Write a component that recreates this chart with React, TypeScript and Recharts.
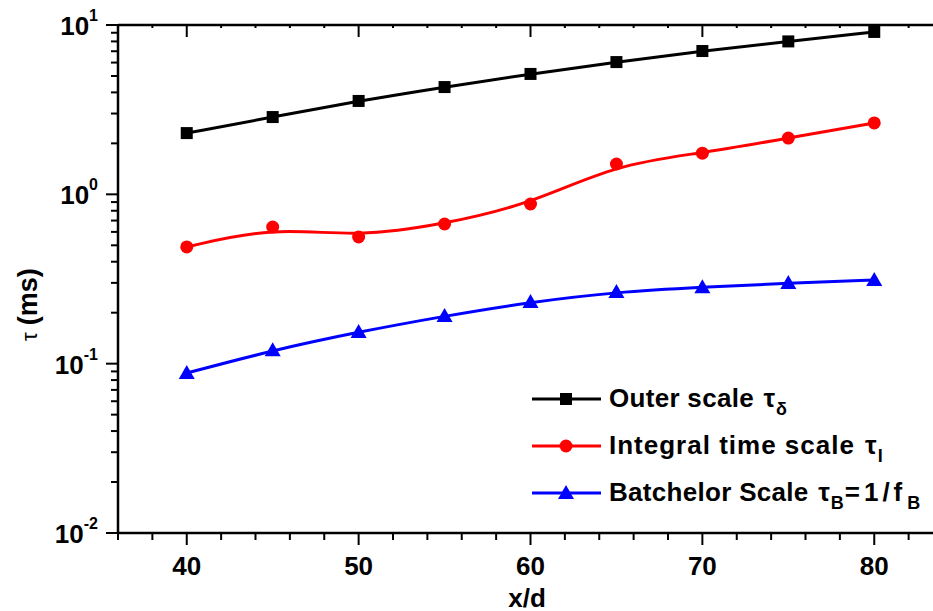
import { LineChart, Line, XAxis, YAxis, Legend } from 'recharts';

// x/d stations and measured time scales (ms)
const xd = [40, 45, 50, 55, 60, 65, 70, 75, 80];
const outerScale = [2.3, 2.86, 3.56, 4.3, 5.14, 6.04, 7.02, 8.0, 9.1];
const integralScale = [0.489, 0.641, 0.56, 0.668, 0.877, 1.51, 1.75, 2.15, 2.64];
const batchelorScale = [0.088, 0.12, 0.154, 0.191, 0.231, 0.265, 0.283, 0.299, 0.312];

const xTicks = [36, 38, 40, 42, 44, 46, 48, 50, 52, 54, 56, 58, 60, 62, 64, 66, 68, 70, 72, 74, 76, 78, 80, 82, 84];
const xMajor = [40, 50, 60, 70, 80];
const yTicks = [
  0.01, 0.02, 0.03, 0.04, 0.05, 0.06, 0.07, 0.08, 0.09,
  0.1, 0.2, 0.3, 0.4, 0.5, 0.6, 0.7, 0.8, 0.9,
  1, 2, 3, 4, 5, 6, 7, 8, 9, 10,
];
const yMajor = [0.01, 0.1, 1, 10];
const yMajorLabels = ['-2', '-1', '0', '1'];

const data = xd.map((x, i) => ({
  x,
  outer: outerScale[i],
  integral: integralScale[i],
  batchelor: batchelorScale[i],
}));

const FONT = '"Liberation Sans", Arial, sans-serif';

const isMajorY = (v: number) => yMajor.some((m) => Math.abs(m - v) < 1e-9);

function BottomTick({ x, y, payload }: any) {
  const major = xMajor.includes(payload.value);
  return (
    <g>
      <line x1={x} x2={x} y1={y} y2={y + (major ? 12 : 7)} stroke="#000" strokeWidth={2} />
      {major && (
        <text x={x} y={y + 42} textAnchor="middle" fontFamily={FONT} fontWeight="bold" fontSize={26} fill="#000">
          {payload.value}
        </text>
      )}
    </g>
  );
}

function TopTick({ x, y, payload }: any) {
  const major = xMajor.includes(payload.value);
  return <line x1={x} x2={x} y1={y} y2={y + (major ? 12 : 3)} stroke="#000" strokeWidth={2} />;
}

function LeftTick({ x, y, payload }: any) {
  const major = isMajorY(payload.value);
  const idx = yMajor.findIndex((m) => Math.abs(m - payload.value) < 1e-9);
  return (
    <g>
      <line x1={x - (major ? 12 : 7)} x2={x} y1={y} y2={y} stroke="#000" strokeWidth={2} />
      {major && (
        <text x={x - 20} y={y + 10} textAnchor="end" fontFamily={FONT} fontWeight="bold" fontSize={26} fill="#000">
          <tspan>10</tspan>
          <tspan dy={-14} fontSize={16}>{yMajorLabels[idx]}</tspan>
        </text>
      )}
    </g>
  );
}

const Square = ({ cx, cy, index }: any) => (
  <rect key={`s${index}`} x={cx - 6} y={cy - 6} width={12} height={12} fill="#000" />
);
const Circle = ({ cx, cy, index }: any) => <circle key={`c${index}`} cx={cx} cy={cy} r={6.5} fill="#ff0000" />;
const Triangle = ({ cx, cy, index }: any) => (
  <path key={`t${index}`} d={`M${cx},${cy - 8} L${cx + 8},${cy + 6} L${cx - 8},${cy + 6} Z`} fill="#0000ff" />
);

const legendRows = [
  { color: '#000', marker: 'square', label: 'Outer scale ', subs: [['τ', 'δ']], spacing: 0.3 },
  { color: '#ff0000', marker: 'circle', label: 'Integral time scale ', subs: [['τ', 'I']], spacing: 1 },
  { color: '#0000ff', marker: 'triangle', label: 'Batchelor Scale ', subs: [['τ', 'B'], ['=1/f', 'B']], spacing: 0.3 },
];

function LegendBox() {
  return (
    <svg width={413} height={150}>
      {legendRows.map((r, i) => {
        const y = 29 + i * 47;
        return (
          <g key={r.label}>
            <line x1={12} x2={81} y1={y} y2={y} stroke={r.color} strokeWidth={3} />
            {r.marker === 'square' && <rect x={40} y={y - 6} width={12} height={12} fill={r.color} />}
            {r.marker === 'circle' && <circle cx={46} cy={y} r={6.5} fill={r.color} />}
            {r.marker === 'triangle' && <path d={`M46,${y - 8} L54,${y + 6} L38,${y + 6} Z`} fill={r.color} />}
            <text x={89} y={y + 8} fontFamily={FONT} fontWeight="bold" fontSize={26} fill="#000">
              <tspan letterSpacing={r.spacing}>{r.label}</tspan>
              {r.subs.map(([main, sub], j) => [
                <tspan key={`m${j}`} dy={j === 0 ? 0 : -8} dx={j === 0 ? 2 : 1} letterSpacing={j === 0 ? 0 : 4}>
                  {main}
                </tspan>,
                <tspan key={`s${j}`} dy={8} dx={1} fontSize={18}>{sub}</tspan>,
              ])}
            </text>
          </g>
        );
      })}
    </svg>
  );
}

export default function App() {
  return (
    <div style={{ position: 'absolute', left: 0, top: 0, width: 933, height: 611, overflow: 'hidden', background: '#fff' }}>
      <LineChart width={943} height={611} data={data} margin={{ top: 0, right: 0, bottom: 0, left: 0 }}>
        <XAxis
          xAxisId="b"
          dataKey="x"
          type="number"
          domain={[36, 84]}
          ticks={xTicks}
          interval={0}
          height={78}
          allowDataOverflow
          tickSize={0}
          tickMargin={0}
          tickLine={false}
          tick={<BottomTick />}
          axisLine={{ stroke: '#000', strokeWidth: 2.5 }}
          label={() => (
            <text x={527} y={607} textAnchor="middle" fontFamily={FONT} fontWeight="bold" fontSize={26} fill="#000">
              x/d
            </text>
          )}
        />
        <XAxis
          xAxisId="t"
          orientation="top"
          dataKey="x"
          type="number"
          domain={[36, 84]}
          ticks={xTicks}
          interval={0}
          height={25}
          allowDataOverflow
          tickSize={0}
          tickMargin={0}
          tickLine={false}
          tick={<TopTick />}
          axisLine={{ stroke: '#000', strokeWidth: 2.5 }}
        />
        <YAxis
          yAxisId="l"
          scale="log"
          type="number"
          domain={[0.01, 10]}
          ticks={yTicks}
          interval={0}
          width={118}
          allowDataOverflow
          tickSize={0}
          tickMargin={0}
          tickLine={false}
          tick={<LeftTick />}
          axisLine={{ stroke: '#000', strokeWidth: 2.5 }}
          label={() => (
            <text
              transform="translate(37, 341) rotate(-90)"
              x={0}
              y={0}
              textAnchor="start"
              fontFamily={FONT}
              fontSize={27}
              fill="#000"
            >
              <tspan fontSize={22}>τ</tspan>
              <tspan fontWeight="bold" dx={7}>(ms)</tspan>
            </text>
          )}
        />
        <Legend
          layout="vertical"
          align="center"
          verticalAlign="middle"
          content={() => <LegendBox />}
          wrapperStyle={{ left: 520, top: 370, width: 413 }}
        />
        <Line xAxisId="b" yAxisId="l" type="basis" dataKey="outer" stroke="#000" strokeWidth={3} dot={Square} activeDot={false} isAnimationActive={false} />
        <Line xAxisId="b" yAxisId="l" type="basis" dataKey="integral" stroke="#ff0000" strokeWidth={3} dot={Circle} activeDot={false} isAnimationActive={false} />
        <Line xAxisId="b" yAxisId="l" type="basis" dataKey="batchelor" stroke="#0000ff" strokeWidth={3} dot={Triangle} activeDot={false} isAnimationActive={false} />
      </LineChart>
    </div>
  );
}
